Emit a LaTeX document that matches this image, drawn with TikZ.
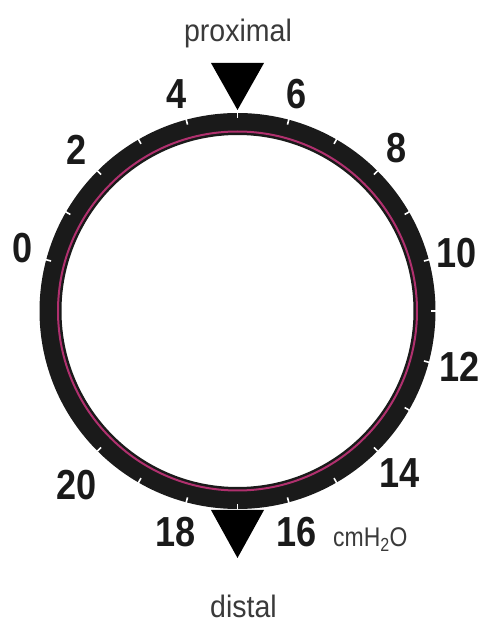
\documentclass[tikz,border=0pt]{standalone}
\usepackage{fontspec}
\usetikzlibrary{calc}
\setmainfont{Liberation Sans}
\definecolor{ringblack}{HTML}{1A1A1A}
\definecolor{magline}{HTML}{B0306E}
\definecolor{txtgray}{HTML}{3A3A3A}
\newcommand\condense[1]{\scalebox{0.86}[1]{#1}}
\newcommand\condenseword[1]{\scalebox{0.92}[1]{#1}}
\begin{document}
\begin{tikzpicture}[x=1pt,y=1pt,
  numlabel/.style={inner sep=0pt,anchor=center,text=ringblack,
    font=\fontsize{42}{42}\selectfont\bfseries},
  wordlabel/.style={inner sep=0pt,anchor=base,text=txtgray,
    font=\fontsize{31}{31}\selectfont},
  tickmark/.style={white,line width=1.6pt},
  pointer/.style={fill=black}]
\useasboundingbox (0,0) rectangle (485,625);
\coordinate (c) at (237.5,314);
% ring
\fill[ringblack,even odd rule] (c) circle[radius=198] (c) circle[radius=176];
\draw[magline,line width=2pt] (c) circle[radius=179.5];
% ticks
\foreach \n in {0,...,20}{
  \pgfmathsetmacro\ang{165-15*\n}
  \draw[tickmark] ($(c)+(\ang:198.5)$) -- ($(c)+(\ang:193)$);
}
% pointers
\coordinate (ptop) at (237.5,515);
\coordinate (pbot) at (237.5,67);
\fill[pointer] (211,562) -- (264,562) -- (ptop) -- cycle;
\fill[pointer] (211,115) -- (264,115) -- (pbot) -- cycle;
% number labels
\node[numlabel] (l0)  at (23,377)  {\condense{0}};
\node[numlabel] (l2)  at (77,475)  {\condense{2}};
\node[numlabel] (l4)  at (177,531) {\condense{4}};
\node[numlabel] (l6)  at (297,531) {\condense{6}};
\node[numlabel] (l8)  at (397,477) {\condense{8}};
\node[numlabel] (l10) at (457,372) {\condense{10}};
\node[numlabel] (l12) at (460,258) {\condense{12}};
\node[numlabel] (l14) at (400,152) {\condense{14}};
\node[numlabel] (l16) at (297,93)  {\condense{16}};
\node[numlabel] (l18) at (176,93)  {\condense{18}};
\node[numlabel] (l20) at (77,140)  {\condense{20}};
% words
\node[wordlabel] (prox) at (238,583) {\condenseword{proximal}};
\node[wordlabel] (dist) at (243.5,7) {\condenseword{distal}};
\node[inner sep=0pt,anchor=base west,text=txtgray,
  font=\fontsize{27}{27}\selectfont] (unit) at (333,78)
  {\scalebox{0.85}[1]{cmH\textsubscript{2}O}};
\end{tikzpicture}
\end{document}
